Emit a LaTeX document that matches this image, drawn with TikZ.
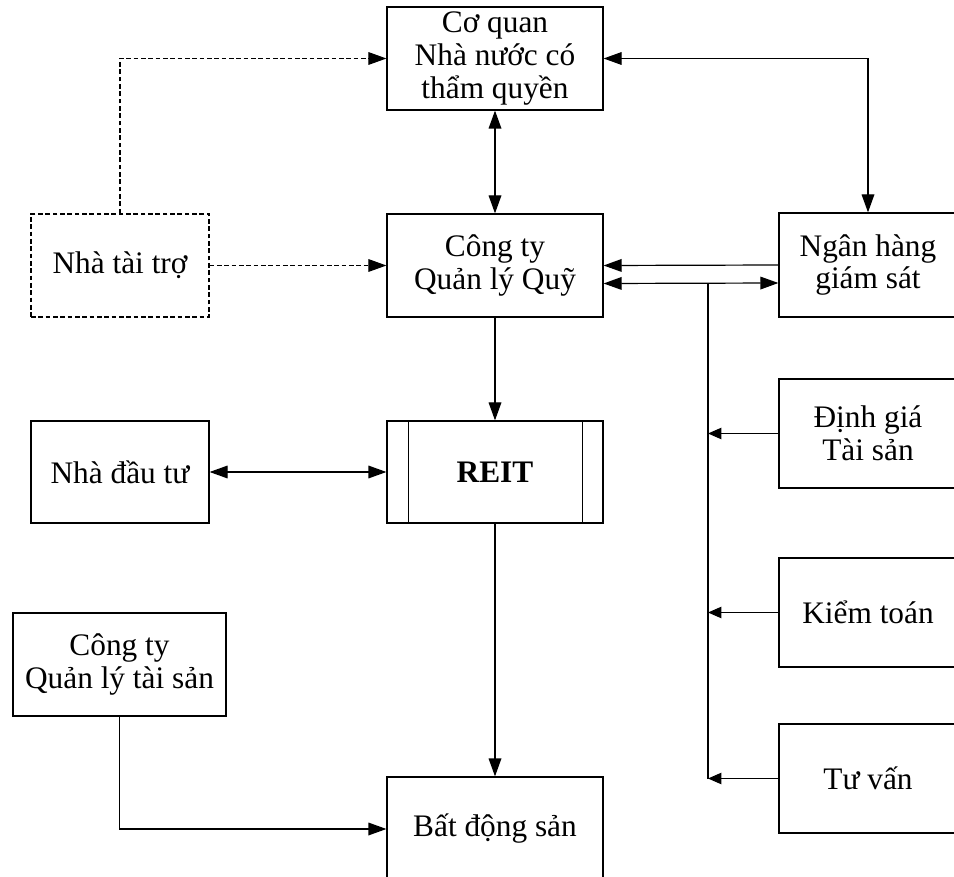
\documentclass[tikz,border=0pt]{standalone}
\usepackage{fontspec}
\setmainfont{Liberation Serif}
\usetikzlibrary{arrows.meta,calc}
\begin{document}
\begin{tikzpicture}[x=0.75pt,y=-0.75pt,
  box/.style={draw, line width=0.9pt, rectangle, align=center, inner sep=0pt,
    font=\fontsize{23.5}{24.5}\selectfont},
  sz/.style 2 args={minimum width={#1*0.75pt}, minimum height={#2*0.75pt}},
  link/.style={line width=0.9pt},
  dsh/.style={line width=0.8pt, dash pattern=on 3.5pt off 2pt},
  big/.style={-{Triangle[length=13.5pt,width=9.5pt]}},
  bigb/.style={{Triangle[length=13.5pt,width=9.5pt]}-{Triangle[length=13.5pt,width=9.5pt]}},
  small/.style={-{Triangle[length=10pt,width=8.5pt]}}]
\useasboundingbox (0,0) rectangle (954,877);
\clip (0,0) rectangle (954,877);

% boxes
\node[box, sz={216}{103}] (coq) at (495,58.5) {Cơ quan\\Nhà nước có\\thẩm quyền};
\node[box, sz={216}{103}] (qlq) at (495,265.5) {Công ty\\Quản lý Quỹ};
\node[box, sz={178}{104}] (ngh) at (868,265) {Ngân hàng\\giám sát};
\node[box, sz={178}{103}, dsh] (ntt) at (120,265.5) {Nhà tài trợ};
\node[box, sz={216}{102}, font=\fontsize{23.5}{24.5}\selectfont\bfseries] (reit) at (495,472) {REIT};
\node[box, sz={178}{102}] (ndt) at (120,472) {Nhà đầu tư};
\node[box, sz={178}{109}] (dg) at (868,433.5) {Định giá\\Tài sản};
\node[box, sz={178}{109}] (kt) at (868,612.5) {Kiểm toán};
\node[box, sz={178}{109}] (tv) at (868,778.5) {Tư vấn};
\node[box, sz={213}{103}] (qlts) at (119.5,664.5) {Công ty\\Quản lý tài sản};
\node[box, sz={216}{104}] (bds) at (495,829) {Bất động sản};

% REIT side bars
\draw[link] ($(reit.north west)+(22,0)$) -- ($(reit.south west)+(22,0)$);
\draw[link] ($(reit.north east)+(-21,0)$) -- ($(reit.south east)+(-21,0)$);

% sponsor (dashed)
\draw[dsh, big] (ntt.north) |- (coq.west);
\draw[dsh, big] (ntt.east) -- (qlq.west);

% authority links
\draw[link, bigb] (coq.south) -- (qlq.north);
\draw[link, bigb] (coq.east) -| (ngh.north);

% custodian bank links
\draw[link, big] (ngh.west) -- (qlq.east);
\coordinate (bus) at (708,283.5);
\draw[link, bigb] ($(qlq.east)+(0,18)$) -- ($(ngh.west)+(0,18)$);
\draw[link] (bus) -- (bus |- tv.west);
\draw[link, small] (dg.west) -- (dg.west -| bus);
\draw[link, small] (kt.west) -- (kt.west -| bus);
\draw[link, small] (tv.west) -- (tv.west -| bus);

% fund flow
\draw[link, big] (qlq.south) -- (reit.north);
\draw[link, bigb] (ndt.east) -- (reit.west);
\draw[link, big] (reit.south) -- (bds.north);
\draw[link, big] (qlts.south) |- (bds.west);
\end{tikzpicture}
\end{document}
